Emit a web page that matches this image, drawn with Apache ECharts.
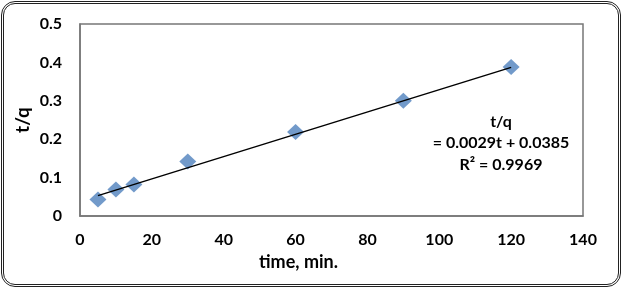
<!DOCTYPE html>
<html>
<head>
<meta charset="utf-8">
<script src="https://cdn.jsdelivr.net/npm/echarts@6/dist/echarts.min.js"></script>
<style>
  html, body { margin: 0; padding: 0; background: #fff; }
  #frame {
    position: absolute; left: 1px; top: 1px; width: 614px; height: 280px;
    border: 3px double #222; border-radius: 14px; background: #fff;
  }
  #chart { position: absolute; left: 0; top: 0; width: 622px; height: 288px; }
</style>
</head>
<body>
<div id="frame"></div>
<div id="chart"></div>
<script>
// time (min) and t/q
var timeMin = [5, 10, 15, 30, 60, 90, 120];
var tOverQ = [0.043, 0.069, 0.082, 0.142, 0.219, 0.300, 0.388];
// linear trend line end points
var trendX = [5, 120];
var trendY = [0.053, 0.387];
var eqLines = ['t/q', '= 0.0029t + 0.0385', 'R² = 0.9969'];

var fontFam = 'Lato, "Open Sans", sans-serif';

function showChart(id) {
    var points = timeMin.map(function (t, i) { return [t, tOverQ[i]]; });
    var trend = trendX.map(function (t, i) { return [t, trendY[i]]; });
    var option = {
        animation: false,
        grid: { left: 80, right: 39, top: 24, bottom: 72 },
        xAxis: {
            type: 'value', min: 0, max: 140, interval: 20,
            name: 'time, min.', nameLocation: 'middle', nameGap: 37,
            nameTextStyle: { fontFamily: fontFam, fontWeight: 'bold', fontSize: 18, color: '#000', padding: [0, 66, 0, 0] },
            axisLine: { show: true, lineStyle: { color: '#777', width: 1.5 } },
            axisTick: { show: false },
            splitLine: { show: false },
            axisLabel: { fontFamily: fontFam, fontWeight: 'bold', fontSize: 16, color: '#000', margin: 16 }
        },
        yAxis: {
            type: 'value', min: 0, max: 0.5, interval: 0.1,
            name: 't/q', nameLocation: 'middle', nameGap: 48, nameRotate: 90,
            nameMoveOverlap: false,
            nameTextStyle: { fontFamily: fontFam, fontWeight: 'bold', fontSize: 19, color: '#000' },
            axisLine: { show: true, lineStyle: { color: '#777', width: 1.5 } },
            axisTick: { show: false },
            splitLine: { show: false },
            axisLabel: { fontFamily: fontFam, fontWeight: 'bold', fontSize: 16, color: '#000', margin: 18,
                padding: [7, 0, 0, 0],
                formatter: function (v) { return v === 0 ? '0' : v.toFixed(1); } }
        },
        graphic: [
            { type: 'rect', shape: { x: 80, y: 24, width: 503, height: 192 }, style: { fill: 'none', stroke: '#777', lineWidth: 1.5 }, silent: true },
            { type: 'text', x: 501, y: 111, style: { text: eqLines.join('\n'), textAlign: 'center', textVerticalAlign: 'top',
                font: 'bold 16px ' + fontFam, fill: '#000', lineHeight: 21.5 } }
        ],
        series: [
            {
                type: 'line', data: trend, symbol: 'none',
                lineStyle: { color: '#000', width: 1.5 }, z: 3
            },
            {
                type: 'scatter', data: points, symbol: 'diamond', symbolSize: [17, 16],
                itemStyle: { color: '#4f81bd' }, z: 2
            }
        ]
    };
    var chart = echarts.init(document.getElementById(id));
    chart.setOption(option);
}
showChart('chart');
</script>
</body>
</html>
